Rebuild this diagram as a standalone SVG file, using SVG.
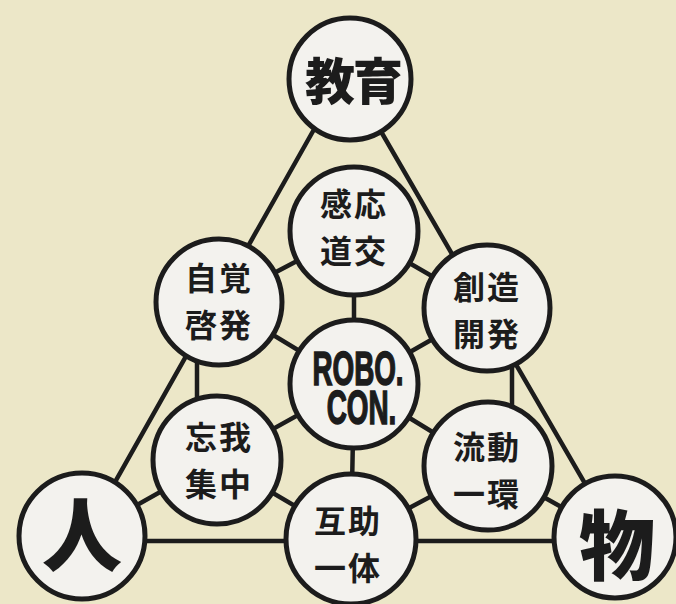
<svg xmlns="http://www.w3.org/2000/svg" width="676" height="604" viewBox="0 0 676 604">
  <style>
    .bg { fill: #ece7c8; }
    .conn line { stroke: #1c1c1c; stroke-width: 4.5; stroke-linecap: round; }
    .node circle { fill: #f3f2ee; stroke: #1c1c1c; stroke-width: 5; }
    .jp { font-family: "Noto Sans CJK JP", "Noto Sans CJK SC", sans-serif; font-weight: 700; fill: #1c1c1c; text-anchor: middle; dominant-baseline: central; font-size: 32px; letter-spacing: 2px; }
    .big { font-family: "Noto Sans CJK JP", "Noto Sans CJK SC", sans-serif; font-weight: 900; fill: #1c1c1c; text-anchor: middle; dominant-baseline: central; }
    .robo { font-family: "Liberation Sans", Arial, sans-serif; font-weight: 700; fill: #1c1c1c; stroke: #1c1c1c; stroke-width: 1.6; text-anchor: middle; font-size: 48px; }
  </style>
  <rect class="bg" x="0" y="0" width="676" height="604"/>

  <g id="connectors" class="conn">
    <line x1="343" y1="78" x2="84" y2="537"/>
    <line x1="350" y1="78" x2="616" y2="537"/>
    <line x1="82" y1="541" x2="615" y2="541"/>
    <line x1="354" y1="231" x2="219" y2="302"/>
    <line x1="354" y1="231" x2="487" y2="308"/>
    <line x1="354" y1="231" x2="354" y2="384"/>
    <line x1="219" y1="302" x2="354" y2="384"/>
    <line x1="197" y1="340" x2="197" y2="420"/>
    <line x1="512" y1="340" x2="512" y2="430"/>
    <line x1="354" y1="384" x2="487" y2="308"/>
    <line x1="354" y1="384" x2="488" y2="466"/>
    <line x1="354" y1="384" x2="217" y2="460"/>
    <line x1="354" y1="384" x2="351" y2="539"/>
    <line x1="217" y1="460" x2="82" y2="536"/>
    <line x1="217" y1="460" x2="351" y2="539"/>
    <line x1="488" y1="466" x2="351" y2="539"/>
    <line x1="488" y1="466" x2="615" y2="537"/>
  </g>

  <g id="node-kyouiku" class="node">
    <circle cx="350" cy="79" r="61"/>
    <text class="big" x="353" y="78" font-size="50" letter-spacing="-2">教育</text>
  </g>
  <g id="node-kannou" class="node">
    <circle cx="354" cy="231" r="64"/>
    <text class="jp"><tspan x="354" y="202">感応</tspan><tspan x="354" y="249">道交</tspan></text>
  </g>
  <g id="node-jikaku" class="node">
    <circle cx="219" cy="302" r="63"/>
    <text class="jp"><tspan x="219" y="276">自覚</tspan><tspan x="219" y="323">啓発</tspan></text>
  </g>
  <g id="node-souzou" class="node">
    <circle cx="487" cy="308" r="63"/>
    <text class="jp"><tspan x="487" y="285">創造</tspan><tspan x="487" y="332">開発</tspan></text>
  </g>
  <g id="node-robocon" class="node">
    <circle cx="354" cy="384" r="64"/>
    <text class="robo" transform="translate(358 0) scale(0.58 1)"><tspan x="0" y="385">ROBO.</tspan><tspan x="6" y="424">CON.</tspan></text>
  </g>
  <g id="node-bouga" class="node">
    <circle cx="217" cy="460" r="64"/>
    <text class="jp"><tspan x="219" y="435">忘我</tspan><tspan x="219" y="482">集中</tspan></text>
  </g>
  <g id="node-ryuudou" class="node">
    <circle cx="488" cy="466" r="64"/>
    <text class="jp"><tspan x="487" y="445">流動</tspan><tspan x="487" y="492">一環</tspan></text>
  </g>
  <g id="node-gojo" class="node">
    <circle cx="351" cy="539" r="65"/>
    <text class="jp"><tspan x="348" y="519">互助</tspan><tspan x="348" y="566">一体</tspan></text>
  </g>
  <g id="node-hito" class="node">
    <circle cx="82" cy="536" r="63"/>
    <text class="big" x="82" y="530" font-size="80">人</text>
  </g>
  <g id="node-mono" class="node">
    <circle cx="615" cy="537" r="61"/>
    <text class="big" x="617" y="541" font-size="76">物</text>
  </g>
</svg>
